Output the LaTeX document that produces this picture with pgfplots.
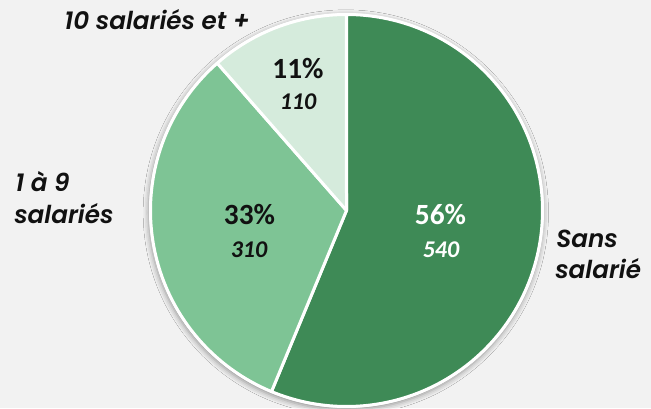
\documentclass[border=0pt]{standalone}
\usepackage{pgfplots}
\pgfplotsset{compat=1.18}
\usepackage{pgfplotstable}
\usepackage{fontspec}
\setmainfont{Carlito}
\newfontfamily\carlitobi{Carlito Bold Italic}
\newfontfamily\gothic{Poppins SemiBold Italic}
\usetikzlibrary{shadows.blur}

\definecolor{bggray}{HTML}{F2F2F2}
\definecolor{sansgreen}{HTML}{3E8A56}
\definecolor{midgreen}{HTML}{7EC495}
\definecolor{lightgreen}{HTML}{D5EBDC}
\definecolor{labelblack}{HTML}{111111}

% effectifs par taille d'entreprise
\pgfplotstableread{
value pct
540 56
310 33
110 11
}\pietable

\pgfplotstablegetelem{0}{value}\of\pietable \let\vA\pgfplotsretval
\pgfplotstablegetelem{1}{value}\of\pietable \let\vB\pgfplotsretval
\pgfplotstablegetelem{2}{value}\of\pietable \let\vC\pgfplotsretval
\pgfmathsetmacro\tot{\vA+\vB+\vC}
\pgfmathsetmacro\aA{90-360*(\vA/\tot)}
\pgfmathsetmacro\aB{\aA-360*(\vB/\tot)}
\pgfmathsetmacro\aC{\aB-360*(\vC/\tot)}

\def\cx{346.5}
\def\cy{197.5}
\def\rr{196}

\begin{document}
\begin{tikzpicture}[
  pct/.style={font=\fontsize{22}{26}\selectfont\bfseries,anchor=base,inner sep=0pt},
  val/.style={font=\carlitobi\fontsize{18}{22}\selectfont,anchor=base,inner sep=0pt},
  cat/.style={font=\gothic\fontsize{18.5}{23}\selectfont,text=labelblack,inner sep=0pt}]
\fill[bggray] (0,0) rectangle (488.25pt,306pt);
\begin{axis}[width=488.25pt,height=306pt,scale only axis,hide axis,
  xmin=0,xmax=651,ymin=0,ymax=408,clip=false]
\fill[white,blur shadow={shadow xshift=-0.5pt,shadow yshift=-1.5pt,shadow blur radius=4pt,shadow opacity=40}]
  (axis cs:\cx,\cy) circle [radius=148pt];
\addplot[fill=sansgreen,draw=white,line width=2.25pt,line join=round,domain=\aA:90,samples=150]
  ({\cx+\rr*cos(x)},{\cy+\rr*sin(x)}) -- (axis cs:\cx,\cy) -- cycle;
\addplot[fill=midgreen,draw=white,line width=2.25pt,line join=round,domain=\aB:\aA,samples=100]
  ({\cx+\rr*cos(x)},{\cy+\rr*sin(x)}) -- (axis cs:\cx,\cy) -- cycle;
\addplot[fill=lightgreen,draw=white,line width=2.25pt,line join=round,domain=\aC:\aB,samples=50]
  ({\cx+\rr*cos(x)},{\cy+\rr*sin(x)}) -- (axis cs:\cx,\cy) -- cycle;

\node[pct,text=white] at (axis cs:440.5,183) {56\%};
\node[val,text=white] at (axis cs:441,150) {540};
\node[pct,text=labelblack] at (axis cs:249.5,183) {33\%};
\node[val,text=labelblack] at (axis cs:249,150) {310};
\node[pct,text=labelblack] at (axis cs:298,329.7) {11\%};
\node[val,text=labelblack] at (axis cs:298,298) {110};

\node[cat,anchor=base east] at (axis cs:250,378.7) {10 salariés et +};
\node[cat,anchor=base west] at (axis cs:15,216.3) {1 à 9};
\node[cat,anchor=base west] at (axis cs:14,184) {salariés};
\node[cat,anchor=base west] at (axis cs:556,160.7) {Sans};
\node[cat,anchor=base west] at (axis cs:555,129) {salarié};
\end{axis}
\pgfresetboundingbox
\useasboundingbox (0,0) rectangle (488.25pt,306pt);
\end{tikzpicture}
\end{document}
